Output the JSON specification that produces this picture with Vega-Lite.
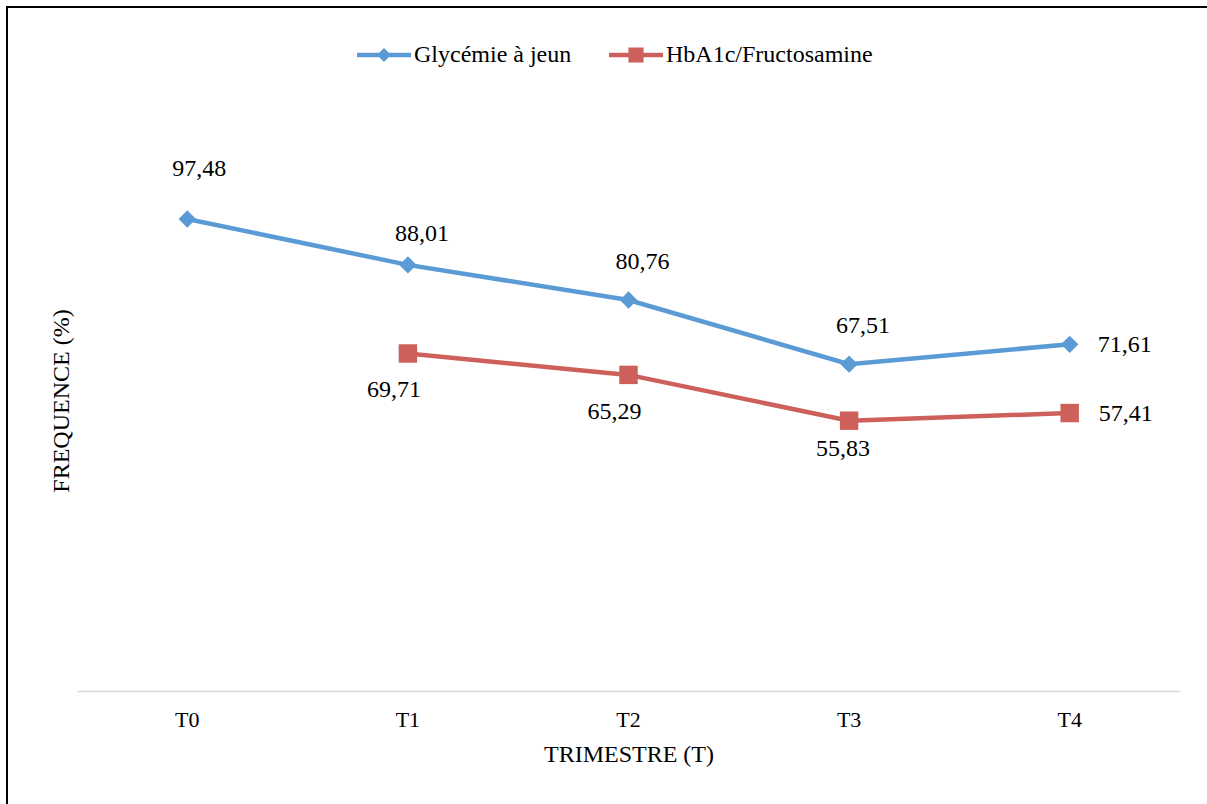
{
  "$schema": "https://vega.github.io/schema/vega-lite/v6.json",
  "width": 1200,
  "height": 797,
  "autosize": {"type": "none"},
  "padding": {"left": 7, "top": 7, "right": 0, "bottom": 0},
  "background": "white",
  "config": {
    "view": {"stroke": "black", "strokeWidth": 2, "strokeDash": [1200, 1997, 797, 1]},
    "font": "Liberation Serif",
    "locale": {"number": {"decimal": ",", "thousands": " ", "grouping": [3], "currency": ["", ""]}}
  },
  "data": {
    "values": [
      {"t": "T0", "serie": "Glycémie à jeun", "v": 97.48},
      {"t": "T1", "serie": "Glycémie à jeun", "v": 88.01},
      {"t": "T2", "serie": "Glycémie à jeun", "v": 80.76},
      {"t": "T3", "serie": "Glycémie à jeun", "v": 67.51},
      {"t": "T4", "serie": "Glycémie à jeun", "v": 71.61},
      {"t": "T1", "serie": "HbA1c/Fructosamine", "v": 69.71},
      {"t": "T2", "serie": "HbA1c/Fructosamine", "v": 65.29},
      {"t": "T3", "serie": "HbA1c/Fructosamine", "v": 55.83},
      {"t": "T4", "serie": "HbA1c/Fructosamine", "v": 57.41}
    ]
  },
  "encoding": {
    "x": {
      "field": "t", "type": "nominal",
      "scale": {"type": "band", "domain": ["T0", "T1", "T2", "T3", "T4"], "range": [70, 1173], "paddingInner": 0, "paddingOuter": 0},
      "axis": {
        "title": "TRIMESTRE (T)", "orient": "bottom", "offset": -113, "labelAngle": 0, "ticks": false,
        "domainColor": "#D9D9D9", "domainWidth": 1.5, "grid": false,
        "labelFontSize": 22, "labelColor": "black", "labelFont": "Liberation Serif", "labelPadding": 18,
        "titleFontSize": 24, "titleFontWeight": "normal", "titleColor": "black", "titleFont": "Liberation Serif", "titlePadding": 12
      }
    },
    "y": {
      "field": "v", "type": "quantitative",
      "scale": {"domain": [0, 120], "range": [684, 103], "nice": false},
      "axis": {
        "title": "FREQUENCE (%)", "offset": -70, "domain": false, "ticks": false, "labels": false, "grid": false,
        "titleFontSize": 24, "titleFontWeight": "normal", "titleColor": "black", "titleFont": "Liberation Serif", "titlePadding": 4
      }
    }
  },
  "layer": [
    {
      "mark": {"type": "line", "strokeWidth": 4.5},
      "encoding": {
        "stroke": {
          "field": "serie", "type": "nominal",
          "scale": {"domain": ["Glycémie à jeun", "HbA1c/Fructosamine"], "range": ["#5B9BD5", "#CE605B"]},
          "legend": {
            "title": null, "orient": "none", "legendX": 350, "legendY": 21, "direction": "horizontal",
            "symbolSize": 2916, "labelFontSize": 24, "labelFont": "Liberation Serif", "labelColor": "black",
            "labelOffset": 3, "columnPadding": 37, "labelLimit": 400, "symbolOpacity": 1, "padding": 0,
            "encode": {
              "symbols": {
                "update": {
                  "shape": {"signal": "datum.value === 'Glycémie à jeun' ? 'M-1,-0.08H1V0.08H-1Z M-0.26,0L0,-0.26L0.26,0L0,0.26Z' : 'M-1,-0.08H1V0.08H-1Z M-0.28,-0.28H0.28V0.28H-0.28Z'"},
                  "fill": {"scale": "stroke", "field": "value"},
                  "strokeWidth": {"value": 0},
                  "opacity": {"value": 1}
                }
              }
            }
          }
        }
      }
    },
    {
      "transform": [{"filter": "datum.serie === 'Glycémie à jeun'"}],
      "mark": {"type": "point", "shape": "diamond", "size": 300, "filled": true, "opacity": 1, "strokeWidth": 0},
      "encoding": {
        "fill": {"field": "serie", "type": "nominal", "scale": {"domain": ["Glycémie à jeun", "HbA1c/Fructosamine"], "range": ["#5B9BD5", "#CE605B"]}, "legend": null}
      }
    },
    {
      "transform": [{"filter": "datum.serie === 'HbA1c/Fructosamine'"}],
      "mark": {"type": "point", "shape": "square", "size": 340, "filled": true, "opacity": 1, "strokeWidth": 0},
      "encoding": {
        "fill": {"field": "serie", "type": "nominal", "scale": {"domain": ["Glycémie à jeun", "HbA1c/Fructosamine"], "range": ["#5B9BD5", "#CE605B"]}, "legend": null}
      }
    },
    {
      "transform": [{"filter": "datum.serie === 'Glycémie à jeun'"}],
      "mark": {
        "type": "text", "fontSize": 24, "font": "Liberation Serif", "color": "black", "baseline": "middle",
        "align": {"expr": "datum.t === 'T4' ? 'left' : 'center'"},
        "dx": {"expr": "datum.t === 'T4' ? 28 : datum.t === 'T0' ? 12 : 14"},
        "dy": {"expr": "datum.t === 'T0' ? -50 : datum.t === 'T1' ? -31 : datum.t === 'T4' ? 1 : -38"}
      },
      "encoding": {"text": {"field": "v", "type": "quantitative", "format": ".2f"}}
    },
    {
      "transform": [{"filter": "datum.serie === 'HbA1c/Fructosamine'"}],
      "mark": {
        "type": "text", "fontSize": 24, "font": "Liberation Serif", "color": "black", "baseline": "middle",
        "align": {"expr": "datum.t === 'T4' ? 'left' : 'center'"},
        "dx": {"expr": "datum.t === 'T4' ? 29 : datum.t === 'T3' ? -6 : -14"},
        "dy": {"expr": "datum.t === 'T4' ? 1 : datum.t === 'T3' ? 28 : 37"}
      },
      "encoding": {"text": {"field": "v", "type": "quantitative", "format": ".2f"}}
    }
  ]
}
